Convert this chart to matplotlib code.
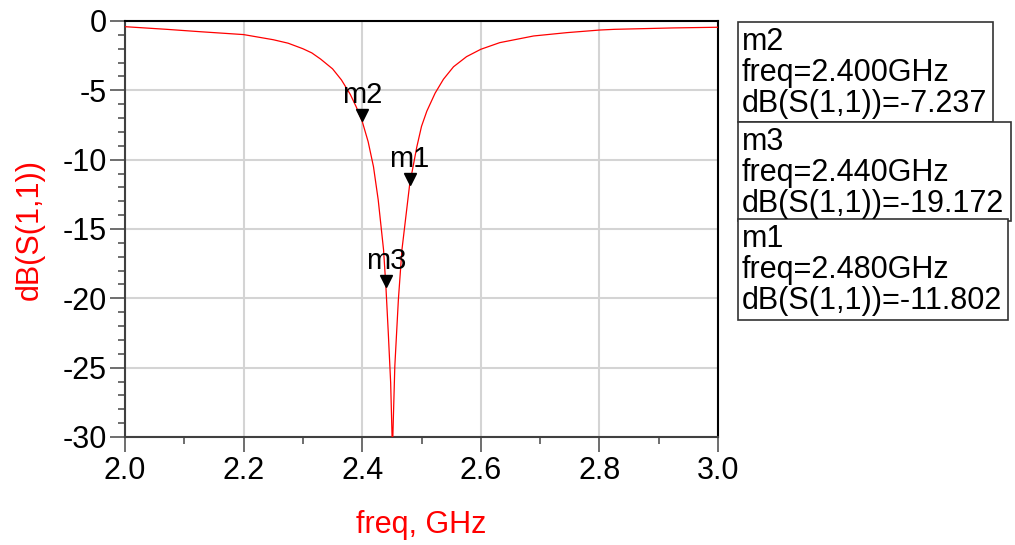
# ---------- IMPORT ------------
import matplotlib
matplotlib.use("Agg")
import matplotlib.pyplot as plt
from matplotlib.ticker import MultipleLocator
from matplotlib.transforms import ScaledTranslation
from matplotlib.patches import Rectangle
# ------------------------------


# ---------- DATA --------------
freq = [2.0, 2.07, 2.126, 2.2, 2.25, 2.275, 2.30, 2.315, 2.33, 2.35, 2.365,
        2.38, 2.39, 2.40, 2.41, 2.419, 2.427, 2.436, 2.44, 2.444, 2.448, 2.451,
        2.455, 2.461, 2.467, 2.48, 2.492, 2.50, 2.509, 2.523, 2.537, 2.554,
        2.576, 2.60, 2.632, 2.689, 2.745, 2.801, 2.826, 2.924, 3.0]
s11_db = [-0.41, -0.6, -0.77, -0.98, -1.35, -1.6, -2.0, -2.3, -2.75, -3.45, -4.25,
          -5.3, -6.2, -7.237, -8.7, -10.5, -12.9, -16.5, -19.172, -22.5, -26.1, -31.0,
          -24.9, -20.1, -16.5, -11.802, -9.1, -7.6, -6.5, -5.2, -4.2, -3.3,
          -2.57, -2.04, -1.56, -1.08, -0.84, -0.65, -0.6, -0.5, -0.45]

marker_names = ["m2", "m3", "m1"]
marker_freq = [2.400, 2.440, 2.480]
marker_db = [-7.237, -19.172, -11.802]
# ------------------------------


# ---------- CONFIG ------------
plt.rcParams['font.family'] = ['Liberation Sans', 'DejaVu Sans']
plt.rcParams['axes.unicode_minus'] = False
red = "#ff0000"
fs = 22
W, H = 1015, 545
# readout boxes in pixels: left, top, right, bottom
boxes = [(738, 22, 993, 122), (738, 122, 1011, 221), (738, 219, 1008, 320)]
# ------------------------------


fig = plt.figure(figsize=(W / 100, H / 100), dpi=100)
ax = fig.add_axes([125 / W, 1 - 437 / H, 593 / W, 416 / H])

ax.plot(freq, s11_db, color=red, linewidth=0.9, zorder=3)

ax.set_xlim(2.0, 3.0)
ax.set_ylim(-30, 0)
ax.xaxis.set_major_locator(MultipleLocator(0.2))
ax.xaxis.set_minor_locator(MultipleLocator(0.1))
ax.yaxis.set_major_locator(MultipleLocator(5))
ax.yaxis.set_minor_locator(MultipleLocator(1))
ax.xaxis.set_major_formatter(matplotlib.ticker.FormatStrFormatter("%.1f"))
ax.grid(True, which="major", color="#d4d4d4", linewidth=1.5, zorder=0)

ax.tick_params(which="major", length=11, width=1.2, color="#555555",
               labelsize=fs, direction="out")
ax.tick_params(which="minor", length=5, width=1.2, color="#555555", direction="out")
ax.tick_params(axis="x", pad=3)
ax.tick_params(axis="y", pad=2)

for side in ["top", "right"]:
    ax.spines[side].set_color("black")
    ax.spines[side].set_linewidth(1.5)
for side in ["left", "bottom"]:
    ax.spines[side].set_color("#404040")
    ax.spines[side].set_linewidth(1.5)

ax.set_xlabel("freq, GHz", color=red, fontsize=fs, labelpad=17)
ax.set_ylabel("dB(S(1,1))", color=red, fontsize=fs, labelpad=13)

# markers: triangle tip sits on the data point
tip = ax.transData + ScaledTranslation(0, 0.06, fig.dpi_scale_trans)
for name, f, d in zip(marker_names, marker_freq, marker_db):
    ax.plot([f], [d], marker="v", color="black", markersize=9,
            transform=tip, zorder=5, clip_on=False)
    ax.annotate(name, (f, d), xytext=(0, 13), textcoords="offset points",
                ha="center", va="baseline", fontsize=21, zorder=6)

# marker readout boxes
for name, f, d, (x0, y0, x1, y1) in zip(marker_names, marker_freq, marker_db, boxes):
    fig.add_artist(Rectangle((x0 / W, 1 - y1 / H), (x1 - x0) / W, (y1 - y0) / H,
                             transform=fig.transFigure, facecolor="white",
                             edgecolor="#333333", linewidth=1.2))
    lines = [name, "freq=%.3fGHz" % f, "dB(S(1,1))=%.3f" % d]
    for i, line in enumerate(lines):
        fig.text((x0 + 4) / W, 1 - (y0 + 28 + 31 * i) / H, line, fontsize=fs,
                 ha="left", va="baseline")

fig.savefig("out.png", dpi=100)
